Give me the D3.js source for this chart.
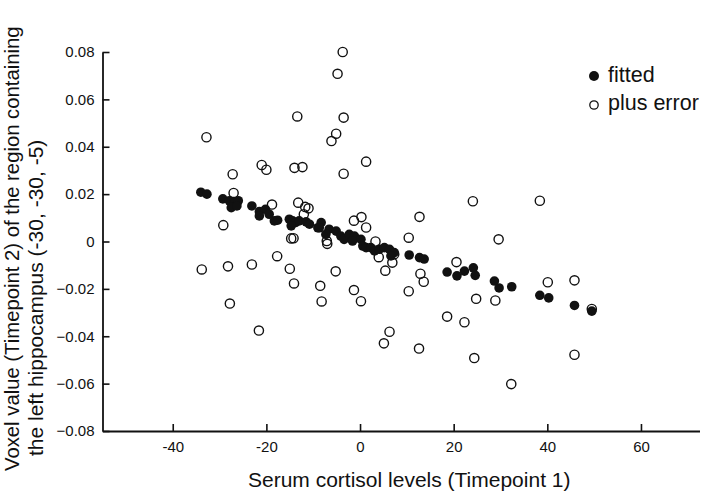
<!DOCTYPE html>
<html>
<head>
<meta charset="utf-8">
<script src="https://cdn.jsdelivr.net/npm/d3@7"></script>
<style>
  body { margin: 0; background: #fff; }
  svg { display: block; font-family: "Liberation Sans", Arial, Helvetica, sans-serif; }
</style>
</head>
<body>
<div id="chart"></div>
<script>
// fitted values (filled dots): [cortisol, voxel value]
const fitted = [
  [-34.0, 0.0208], [-32.7, 0.0200], [-29.3, 0.0180], [-27.9, 0.0172], [-26.8, 0.0164],
  [-26.0, 0.0172], [-27.5, 0.0143], [-26.3, 0.0150], [-23.1, 0.0150], [-21.5, 0.0126],
  [-20.2, 0.0136], [-21.5, 0.0108], [-19.4, 0.0115], [-18.3, 0.0087], [-17.6, 0.0090],
  [-15.1, 0.0094], [-14.4, 0.0087], [-13.8, 0.0080], [-13.0, 0.0087], [-11.5, 0.0083],
  [-10.8, 0.0073], [-14.7, 0.0066], [-9.0, 0.0058], [-8.3, 0.0080], [-8.7, 0.0058],
  [-6.6, 0.0052], [-7.3, 0.0030], [-5.1, 0.0044], [-4.1, 0.0023], [-3.4, 0.0009],
  [-2.3, 0.0030], [-1.2, 0.0023], [-1.6, 0.0002], [0.2, 0.0009], [0.6, -0.0019],
  [1.3, -0.0026], [2.3, -0.0026], [3.1, -0.0040], [4.1, -0.0033], [5.2, -0.0026],
  [6.3, -0.0033], [7.3, -0.0047], [6.6, -0.0061], [10.5, -0.0057], [12.7, -0.0068],
  [13.7, -0.0074], [18.6, -0.0129], [20.7, -0.0145], [22.3, -0.0125], [24.2, -0.0111],
  [24.6, -0.0143], [28.7, -0.0167], [29.7, -0.0196], [32.4, -0.0191], [38.4, -0.0227],
  [40.3, -0.0238], [45.8, -0.0270], [49.5, -0.0294]
]

// fitted plus residual (open circles)
const plusError = [
  [-32.8, 0.0440], [-27.2, 0.0284], [-27.0, 0.0205], [-29.2, 0.0069], [-21.0, 0.0323],
  [-20.0, 0.0303], [-18.8, 0.0156], [-13.4, 0.0528], [-14.0, 0.0311], [-12.3, 0.0314],
  [-13.2, 0.0164], [-11.7, 0.0146], [-11.0, 0.0140], [-12.0, 0.0115], [-14.7, 0.0013],
  [-14.2, 0.0014], [-3.7, 0.0800], [-4.8, 0.0708], [-3.5, 0.0523], [-5.1, 0.0455],
  [-6.1, 0.0424], [-3.5, 0.0286], [-7.1, 0.0002], [-7.0, -0.0010], [-1.3, 0.0088],
  [0.3, 0.0103], [1.3, 0.0337], [24.1, 0.0170], [38.4, 0.0172], [12.7, 0.0104],
  [1.3, 0.0059], [10.4, 0.0016], [29.6, 0.0009], [3.3, 0.0000], [-33.8, -0.0118],
  [-28.2, -0.0105], [-23.1, -0.0097], [-17.7, -0.0062], [-15.0, -0.0115], [-14.1, -0.0177],
  [-27.8, -0.0262], [-21.6, -0.0376], [-8.5, -0.0187], [-8.2, -0.0253], [-5.2, -0.0126],
  [-1.3, -0.0205], [0.2, -0.0252], [5.4, -0.0123], [4.0, -0.0066], [6.9, -0.0089],
  [10.4, -0.0210], [12.9, -0.0136], [13.6, -0.0170], [20.6, -0.0087], [18.6, -0.0317],
  [22.3, -0.0341], [24.8, -0.0242], [28.9, -0.0249], [24.4, -0.0492], [32.3, -0.0602],
  [40.1, -0.0172], [45.8, -0.0164], [45.8, -0.0478], [49.5, -0.0285], [6.3, -0.0381],
  [5.1, -0.0430], [12.6, -0.0452], [7.3, -0.0054]
]

const xTicks = [-40, -20, 0, 20, 40, 60]
const yTicks = [-0.08, -0.06, -0.04, -0.02, 0, 0.02, 0.04, 0.06, 0.08]
const legendLabels = ['fitted', 'plus error']
const xTitle = 'Serum cortisol levels (Timepoint 1)'
const yTitle = ['Voxel value (Timepoint 2) of the region containing', 'the left hippocampus (-30, -30, -5)']

const width = 708
const height = 491
const ink = '#111'

const x = d3.scaleLinear().domain([-55, 72.5]).range([102.5, 699.5])
const y = d3.scaleLinear().domain([-0.08, 0.08]).range([431, 52])

const svg = d3.select('#chart').append('svg')
  .attr('width', width)
  .attr('height', height)

// axes, ticks pointing inward
const xAxis = g => g
  .attr('transform', `translate(0,${y(-0.08)})`)
  .call(d3.axisBottom(x).tickValues(xTicks).tickSizeInner(-7).tickSizeOuter(0).tickPadding(10)
    .tickFormat(d => d))
  .call(g => g.select('.domain').attr('stroke', ink).attr('stroke-width', 1.8))
  .call(g => g.selectAll('.tick line').attr('stroke', ink).attr('stroke-width', 1.6))
  .call(g => g.selectAll('.tick text').attr('fill', ink).style('font-size', '15px')
    .attr('font-family', '"Liberation Sans", Arial, sans-serif'))

const yAxis = g => g
  .attr('transform', `translate(${x(-55)},0)`)
  .call(d3.axisLeft(y).tickValues(yTicks).tickSizeInner(-7).tickSizeOuter(0).tickPadding(8)
    .tickFormat(d => d === 0 ? '0' : d3.format('.2f')(d)))
  .call(g => g.select('.domain').attr('stroke', ink).attr('stroke-width', 1.8))
  .call(g => g.selectAll('.tick line').attr('stroke', ink).attr('stroke-width', 1.6))
  .call(g => g.selectAll('.tick text').attr('fill', ink).style('font-size', '15px')
    .attr('font-family', '"Liberation Sans", Arial, sans-serif'))

svg.append('g').call(xAxis)
svg.append('g').call(yAxis)

// open circles first, filled dots on top
svg.append('g')
  .selectAll('circle')
  .data(plusError)
  .join('circle')
  .attr('cx', d => x(d[0]))
  .attr('cy', d => y(d[1]))
  .attr('r', 4.6)
  .attr('fill', 'none')
  .attr('stroke', ink)
  .attr('stroke-width', 1.4)

svg.append('g')
  .selectAll('circle')
  .data(fitted)
  .join('circle')
  .attr('cx', d => x(d[0]))
  .attr('cy', d => y(d[1]))
  .attr('r', 4.8)
  .attr('fill', ink)

// legend
const legend = svg.append('g').attr('transform', 'translate(594,0)')
legend.append('circle').attr('cx', 0).attr('cy', 76).attr('r', 5).attr('fill', ink)
legend.append('circle').attr('cx', 0).attr('cy', 105).attr('r', 4.2)
  .attr('fill', 'none').attr('stroke', ink).attr('stroke-width', 1.3)
legend.selectAll('text')
  .data(legendLabels)
  .join('text')
  .attr('x', 14)
  .attr('y', (d, i) => 82 + i * 28)
  .attr('font-size', 21.5)
  .attr('fill', ink)
  .text(d => d)

// axis titles
svg.append('text')
  .attr('x', 248)
  .attr('y', 487)
  .attr('font-size', 21)
  .attr('fill', ink)
  .text(xTitle)

svg.append('g')
  .selectAll('text')
  .data(yTitle)
  .join('text')
  .attr('transform', (d, i) => i === 0 ? 'translate(19,471) rotate(-90)' : 'translate(43,456) rotate(-90)')
  .attr('font-size', (d, i) => i === 0 ? 20.3 : 21)
  .attr('fill', ink)
  .text(d => d)
</script>
</body>
</html>
